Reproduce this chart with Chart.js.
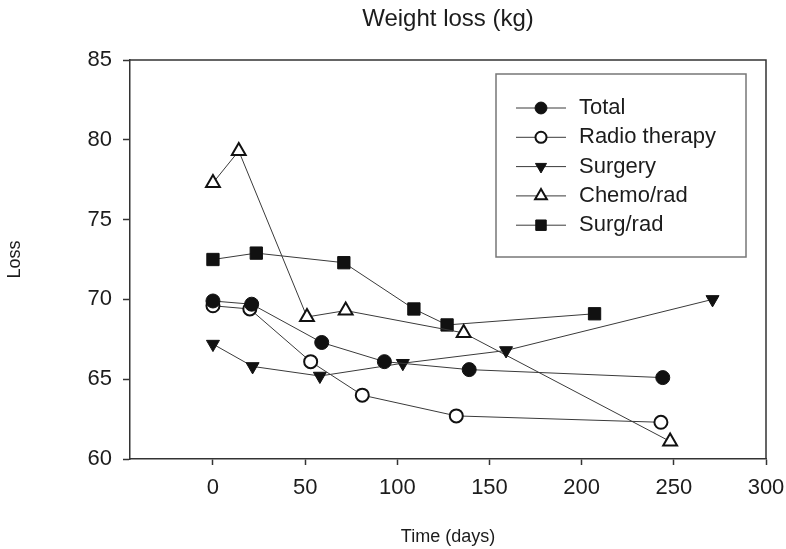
<!DOCTYPE html>
<html>
<head>
<meta charset="utf-8">
<script src="https://cdn.jsdelivr.net/npm/chart.js@4.4.0/dist/chart.umd.min.js"></script>
<style>
  html, body { margin: 0; padding: 0; background: #fff; }
</style>
</head>
<body>
<canvas id="chart" width="786" height="549"></canvas>
<script>
// values
const seriesNames = ['Total', 'Radio therapy', 'Surgery', 'Chemo/rad', 'Surg/rad'];

const totalDays = [0, 21, 59, 93, 139, 244];
const totalLoss = [69.9, 69.7, 67.3, 66.1, 65.6, 65.1];

const radioDays = [0, 20, 53, 81, 132, 243];
const radioLoss = [69.6, 69.4, 66.1, 64.0, 62.7, 62.3];

const surgeryDays = [0, 21.5, 58, 103, 159, 271];
const surgeryLoss = [67.2, 65.8, 65.2, 66.0, 66.8, 70.0];

const chemoDays = [0, 14, 51, 72, 136, 248];
const chemoLoss = [77.3, 79.3, 68.9, 69.3, 67.9, 61.1];

const surgRadDays = [0, 23.5, 71, 109, 127, 207];
const surgRadLoss = [72.5, 72.9, 72.3, 69.4, 68.4, 69.1];

const xTicks = [0, 50, 100, 150, 200, 250, 300];
const yTicks = [60, 65, 70, 75, 80, 85];

const FONT = "'Liberation Sans', Arial, Helvetica, sans-serif";
const INK = '#1c1c1c';
const AXIS = '#333';

function pts(days, vals) {
    return days.map((d, i) => ({ x: d, y: vals[i] }));
}

function series(label, days, vals, style) {
    return Object.assign({
        label: label,
        data: pts(days, vals),
        borderColor: '#3a3a3a',
        borderWidth: 1,
        showLine: true,
        fill: false,
        tension: 0,
        pointBorderColor: '#111',
        pointHoverRadius: 0
    }, style);
}

const datasets = [
    series(seriesNames[0], totalDays, totalLoss, { pointStyle: 'circle', pointRadius: 7, pointBackgroundColor: '#111', pointBorderWidth: 1 }),
    series(seriesNames[1], radioDays, radioLoss, { pointStyle: 'circle', pointRadius: 6.5, pointBackgroundColor: '#fff', pointBorderWidth: 2 }),
    series(seriesNames[2], surgeryDays, surgeryLoss, { pointStyle: 'triangle', pointRotation: 180, pointRadius: 7.5, pointBackgroundColor: '#111', pointBorderWidth: 1 }),
    series(seriesNames[3], chemoDays, chemoLoss, { pointStyle: 'triangle', pointRadius: 8, pointBackgroundColor: '#fff', pointBorderWidth: 2 }),
    series(seriesNames[4], surgRadDays, surgRadLoss, { pointStyle: 'rect', pointRadius: 8.7, pointBackgroundColor: '#111', pointBorderWidth: 1 })
];

// frame on top/right + boxed legend with line+marker samples
const boxLegend = {
    id: 'boxLegend',
    afterDraw(chart) {
        const { ctx, chartArea: a } = chart;
        ctx.save();
        ctx.strokeStyle = AXIS;
        ctx.lineWidth = 1.5;
        ctx.beginPath();
        ctx.moveTo(a.left, a.top);
        ctx.lineTo(a.right, a.top);
        ctx.lineTo(a.right, a.bottom);
        ctx.stroke();

        const bx = 496, by = 74, bw = 250, bh = 183;
        ctx.strokeStyle = '#777';
        ctx.lineWidth = 1.5;
        ctx.strokeRect(bx, by, bw, bh);

        ctx.font = '22px ' + FONT;
        ctx.textBaseline = 'middle';
        ctx.textAlign = 'left';
        chart.data.datasets.forEach((ds, i) => {
            const y = 108 + i * 29.3;
            ctx.strokeStyle = '#3a3a3a';
            ctx.lineWidth = 1;
            ctx.beginPath();
            ctx.moveTo(516, y);
            ctx.lineTo(566, y);
            ctx.stroke();
            ctx.fillStyle = ds.pointBackgroundColor;
            ctx.strokeStyle = ds.pointBorderColor;
            ctx.lineWidth = ds.pointBorderWidth;
            Chart.helpers.drawPoint(ctx, {
                pointStyle: ds.pointStyle,
                rotation: ds.pointRotation || 0,
                radius: ds.pointRadius * 0.85,
                borderWidth: ds.pointBorderWidth
            }, 541, y);
            ctx.fillStyle = INK;
            ctx.fillText(ds.label, 579, y);
        });
        ctx.restore();
    }
};

new Chart(document.getElementById('chart').getContext('2d'), {
    type: 'scatter',
    data: { datasets: datasets },
    options: {
        responsive: false,
        animation: false,
        devicePixelRatio: 1,
        layout: { padding: { left: 0, right: 20, top: 0, bottom: 0 } },
        plugins: {
            legend: { display: false },
            tooltip: { enabled: false },
            title: {
                display: true,
                text: 'Weight loss (kg)',
                fullSize: false,
                color: INK,
                font: { family: FONT, size: 24, weight: 'normal' },
                padding: { top: 5, bottom: 26.2 }
            }
        },
        scales: {
            x: {
                type: 'linear',
                min: -45,
                max: 300,
                afterBuildTicks: s => { s.ticks = xTicks.map(v => ({ value: v })); },
                afterFit: s => { s.height = 90; s.paddingLeft = 0; s.paddingRight = 0; },
                grid: { drawOnChartArea: false, tickLength: 6, tickColor: AXIS, tickWidth: 1.5 },
                border: { color: AXIS, width: 1.5 },
                ticks: { color: INK, font: { family: FONT, size: 22 }, padding: 10, maxRotation: 0, autoSkip: false },
                title: { display: true, text: 'Time (days)', color: INK, font: { family: FONT, size: 18 }, padding: { top: 0, bottom: 1 } }
            },
            y: {
                type: 'linear',
                min: 60,
                max: 85,
                afterBuildTicks: s => { s.ticks = yTicks.map(v => ({ value: v })); },
                afterFit: s => { s.width = 130; },
                grid: { drawOnChartArea: false, tickLength: 7, tickColor: AXIS, tickWidth: 1.5 },
                border: { color: AXIS, width: 1.5 },
                ticks: { color: INK, font: { family: FONT, size: 22 }, padding: 11, autoSkip: false },
                title: { display: true, text: 'Loss', color: INK, font: { family: FONT, size: 18 }, padding: { top: 4, bottom: 0 } }
            }
        }
    },
    plugins: [boxLegend]
});
</script>
</body>
</html>
